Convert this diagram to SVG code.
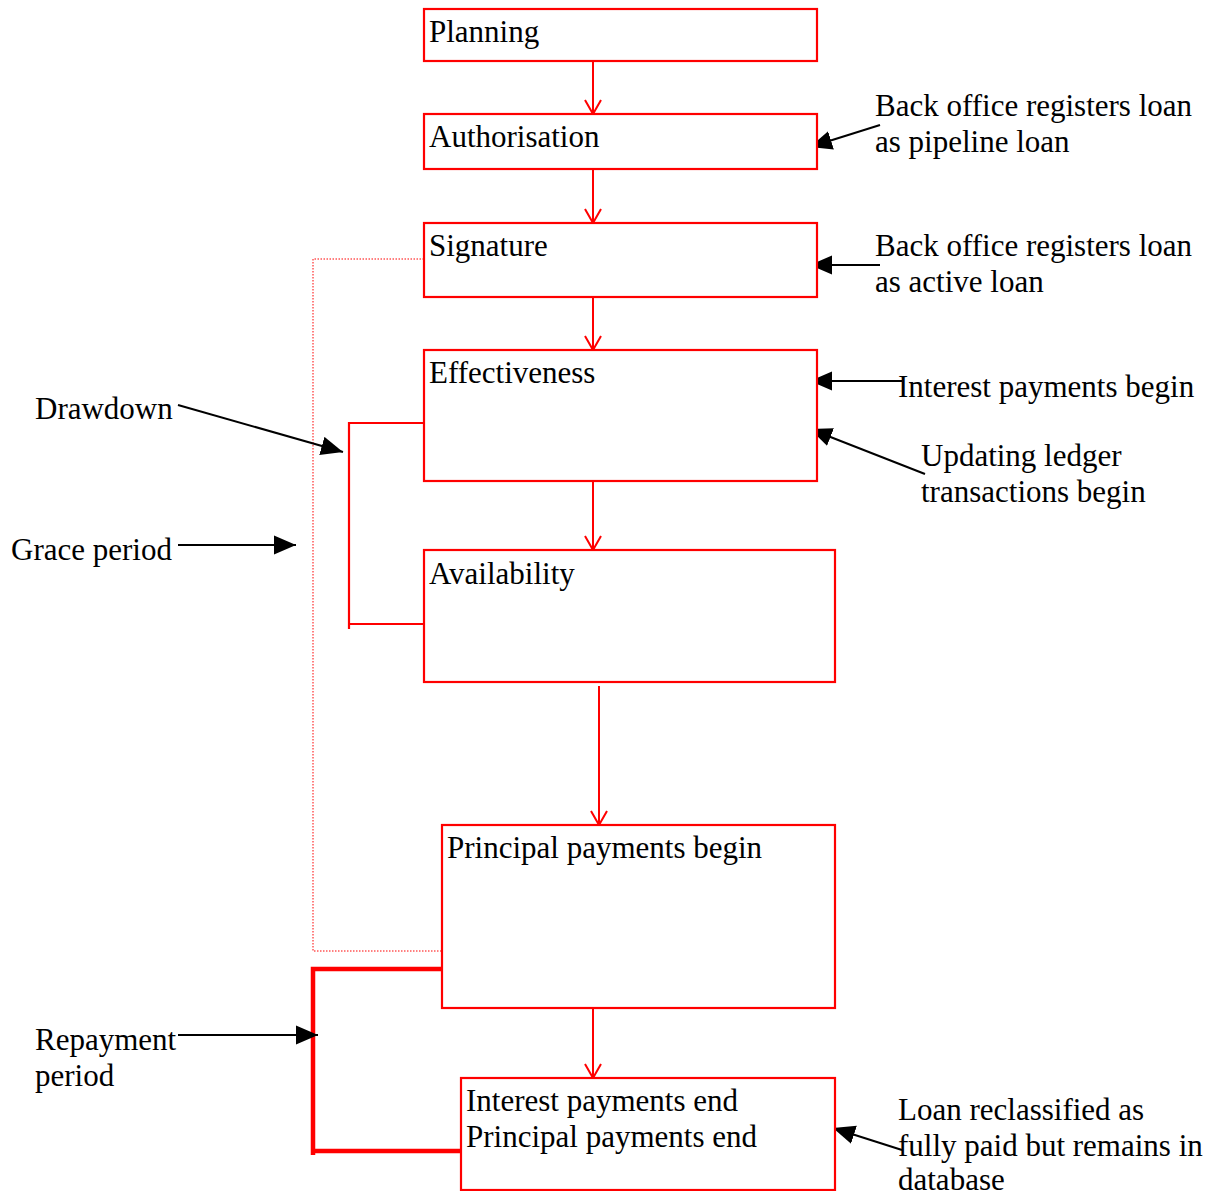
<svg xmlns="http://www.w3.org/2000/svg" width="1224" height="1191" viewBox="0 0 1224 1191">
<style>
.box{fill:#fff;stroke:#ff0000;stroke-width:2.2}
.t{font-family:"Liberation Serif","Times New Roman",serif;font-size:31px;fill:#000}
.flow{stroke:#ff0000;stroke-width:2;fill:none}
.ann{stroke:#000;stroke-width:2;fill:none}
.brk{stroke:#ff0000;stroke-width:2.2;fill:none}
.thick{stroke:#ff0000;stroke-width:4.5;fill:none}
.dot{stroke:#ff0000;stroke-width:1;stroke-dasharray:1.5 1.5;fill:none}
</style>
<defs>
<marker id="open" markerWidth="18" markerHeight="20" viewBox="0 0 18 20" refX="16" refY="10" orient="auto" markerUnits="userSpaceOnUse">
<path d="M2,2 L16,10 L2,18" fill="none" stroke="#ff0000" stroke-width="2"/>
</marker>
<marker id="tri" markerWidth="22" markerHeight="20" viewBox="0 0 22 20" refX="22" refY="10" orient="auto" markerUnits="userSpaceOnUse">
<path d="M0,0.5 L22,10 L0,19.5 Z" fill="#000"/>
</marker>
</defs>
<rect width="1224" height="1191" fill="#fff"/>

<g id="brackets">
<path class="dot" d="M424,259 H313 V951 H442"/>
<path class="brk" d="M424,423 H349 V629 M349,624 H424"/>
<path class="thick" d="M442,969 H313 V1155 M313,1151 H461"/>
</g>

<g id="connectors">
<line class="flow" x1="593" y1="61" x2="593" y2="114" marker-end="url(#open)"/>
<line class="flow" x1="593" y1="169" x2="593" y2="223" marker-end="url(#open)"/>
<line class="flow" x1="593" y1="297" x2="593" y2="350" marker-end="url(#open)"/>
<line class="flow" x1="593" y1="481" x2="593" y2="550" marker-end="url(#open)"/>
<line class="flow" x1="599" y1="686" x2="599" y2="825" marker-end="url(#open)"/>
<line class="flow" x1="593" y1="1008" x2="593" y2="1078" marker-end="url(#open)"/>
<line class="ann" x1="880" y1="125" x2="810" y2="147" marker-end="url(#tri)"/>
<line class="ann" x1="880" y1="265" x2="810" y2="265" marker-end="url(#tri)"/>
<line class="ann" x1="902" y1="381" x2="810" y2="381" marker-end="url(#tri)"/>
<line class="ann" x1="925" y1="474" x2="810" y2="429" marker-end="url(#tri)"/>
<line class="ann" x1="178" y1="405" x2="343" y2="452" marker-end="url(#tri)"/>
<line class="ann" x1="178" y1="545" x2="296" y2="545" marker-end="url(#tri)"/>
<line class="ann" x1="178" y1="1035" x2="318" y2="1035" marker-end="url(#tri)"/>
<line class="ann" x1="902" y1="1150" x2="833" y2="1128" marker-end="url(#tri)"/>
</g>

<g id="planning"><rect class="box" x="424" y="9" width="393" height="52"/><text class="t" x="429" y="42">Planning</text></g>
<g id="authorisation"><rect class="box" x="424" y="114" width="393" height="55"/><text class="t" x="429" y="147">Authorisation</text></g>
<g id="signature"><rect class="box" x="424" y="223" width="393" height="74"/><text class="t" x="429" y="256">Signature</text></g>
<g id="effectiveness"><rect class="box" x="424" y="350" width="393" height="131"/><text class="t" x="429" y="383">Effectiveness</text></g>
<g id="availability"><rect class="box" x="424" y="550" width="411" height="132"/><text class="t" x="429" y="584">Availability</text></g>
<g id="principal-begin"><rect class="box" x="442" y="825" width="393" height="183"/><text class="t" x="447" y="858">Principal payments begin</text></g>
<g id="payments-end"><rect class="box" x="461" y="1078" width="374" height="112"/><text class="t" x="466" y="1111">Interest payments end</text><text class="t" x="466" y="1147">Principal payments end</text></g>

<g id="notes">
<text class="t" x="875" y="116">Back office registers loan</text>
<text class="t" x="875" y="152">as pipeline loan</text>
<text class="t" x="875" y="256">Back office registers loan</text>
<text class="t" x="875" y="292">as active loan</text>
<text class="t" x="898" y="397">Interest payments begin</text>
<text class="t" x="921" y="466">Updating ledger</text>
<text class="t" x="921" y="502">transactions begin</text>
<text class="t" x="35" y="419">Drawdown</text>
<text class="t" x="11" y="560">Grace period</text>
<text class="t" x="35" y="1050">Repayment</text>
<text class="t" x="35" y="1086">period</text>
<text class="t" x="898" y="1120">Loan reclassified as</text>
<text class="t" x="898" y="1156">fully paid but remains in</text>
<text class="t" x="898" y="1190">database</text>
</g>
</svg>
